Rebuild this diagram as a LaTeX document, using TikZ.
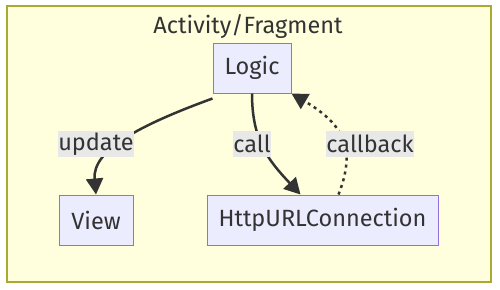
\documentclass[tikz,border=0pt]{standalone}
\usepackage{fontspec}
\setmainfont{Fira Sans}
\usetikzlibrary{arrows.meta}
\definecolor{clbg}{HTML}{FFFFDE}
\definecolor{clbd}{HTML}{AAAA33}
\definecolor{ndfill}{HTML}{ECECFF}
\definecolor{ndbd}{HTML}{9370DB}
\definecolor{txt}{HTML}{333333}
\definecolor{lblbg}{HTML}{E8E8E8}
\tikzset{
  box/.style={draw=ndbd, fill=ndfill, line width=1pt, text=txt, font=\fontsize{23.5}{26}\selectfont, minimum height=50pt, inner sep=0pt},
  lbl/.style={fill=lblbg, text=txt, font=\fontsize{23.5}{26}\selectfont, minimum height=26pt, inner sep=0pt},
  conn/.style={draw=txt, line width=2.5pt, -{Triangle[length=16pt,width=17pt]}},
}
\begin{document}
\begin{tikzpicture}[x=1pt,y=-1pt]
\useasboundingbox (0,0) rectangle (500,289);
\fill[white] (0,0) rectangle (500,289);
\draw[fill=clbg, draw=clbd, line width=1.5pt] (7,6) rectangle (491,282);
\node[text=txt, font=\fontsize{23.5}{26}\selectfont] (title) at (248,27) {Activity/Fragment};
\node[box, minimum width=78pt] (logic) at (252,68) {Logic};
\node[box, minimum width=74pt] (view) at (96,220) {View};
\node[box, minimum width=231pt] (http) at (322.5,220) {HttpURLConnection};
\draw[conn] ([yshift=-5pt]logic.south west) .. controls (140,125) and (92,150) .. (view.north);
\draw[conn] ([xshift=0pt]logic.south) .. controls (252,140) and (268,160) .. ([xshift=-22pt]http.north);
\draw[conn, dash pattern=on 3pt off 4pt] ([xshift=16pt]http.north) .. controls (356,150) and (345,125) .. (logic.south east);
\node[lbl, minimum width=74pt] (l1) at (96,144) {update};
\node[lbl, minimum width=38pt] (l2) at (252,144) {call};
\node[lbl, minimum width=87pt] (l3) at (370,144) {callback};
\end{tikzpicture}
\end{document}
